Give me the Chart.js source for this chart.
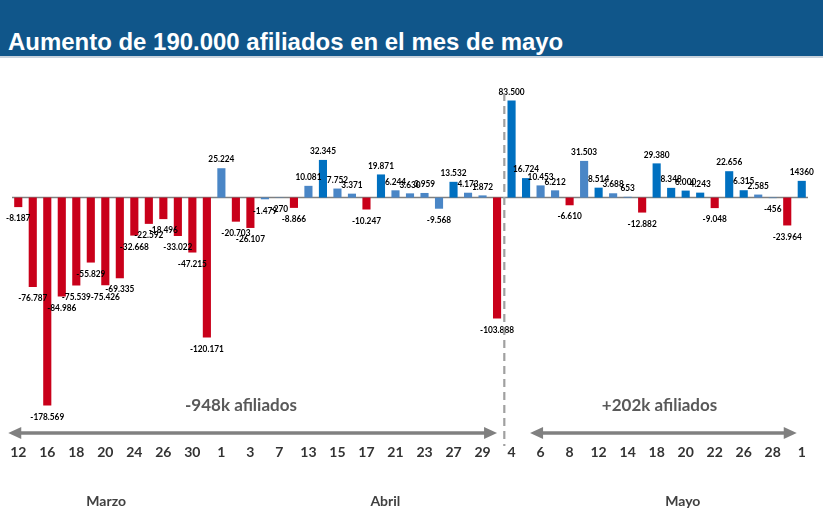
<!DOCTYPE html>
<html><head><meta charset="utf-8">
<script src="https://cdn.jsdelivr.net/npm/chart.js@4.4.1/dist/chart.umd.min.js"></script>
<style>
html,body{margin:0;padding:0;background:#fff;width:823px;height:513px;overflow:hidden;}
#wrap{position:relative;width:823px;height:513px;}
#banner{position:absolute;left:0;top:0;width:823px;height:56px;background:#10568A;border-bottom:2px solid #c9d3dd;}
#title{position:absolute;left:8px;top:28px;line-height:24px;color:#fff;font:bold 24px "Liberation Sans",Arial,sans-serif;white-space:nowrap;transform-origin:0 0;}
canvas{position:absolute;left:0;top:0;}
</style></head>
<body><div id="wrap"><canvas id="c" width="823" height="513"></canvas>
<div id="banner"><span id="title">Aumento de 190.000 afiliados en el mes de mayo</span></div></div>
<script>
// dates (business days) Mar 12 -> Jun 1
const categories = ['12','13','16','17','18','19','20','23','24','25','26','27','30','31',
  '1','2','3','6','7','8','13','14','15','16','17','20','21','22','23','24','27','28','29','30',
  '4','5','6','7','8','11','12','13','14','15','18','19','20','21','22','25','26','27','28','29','1'];
const values = [-8187,-76787,-178569,-84986,-75539,-55829,-75426,-69335,-32668,-22592,-18496,-33022,-47215,-120171,
  25224,-20703,-26107,-1479,-270,-8866,10081,32345,7752,3371,-10247,19871,6244,3630,3959,-9568,13532,4173,1872,-103888,
  83500,16724,10453,6212,-6610,31503,8514,3688,653,-12882,29380,8348,6000,4243,-9048,22656,6315,2585,-456,-23964,14360];
// bar shade: r = red, d = dark blue, l = light blue
const shades = ['r','r','r','r','r','r','r','r','r','r','r','r','r','r',
  'l','r','r','l','l','r','l','d','l','l','r','d','l','l','l','l','d','l','l','r',
  'd','d','l','l','r','l','d','l','l','r','d','d','d','d','r','d','d','l','l','r','d'];
const months = ['Marzo','Abril','Mayo'];
const periodTexts = ['-948k afiliados','+202k afiliados'];
const plainLabelIdx = [54];

const palette = {r:'#C9001A', d:'#0070C0', l:'#4A86C6'};

// fit title width
const t = document.getElementById('title');
t.style.transform = 'scaleX(' + (555 / t.offsetWidth) + ')';

function fmt(v, i){
  if (plainLabelIdx.includes(i)) return String(v);
  const s = Math.abs(v).toString().replace(/\B(?=(\d{3})+(?!\d))/g, '.');
  return (v < 0 ? '-' : '') + s;
}

function arrow(ctx, x1, x2, y){
  const hl = 13, hh = 6;
  ctx.save();
  ctx.strokeStyle = '#808080'; ctx.fillStyle = '#808080'; ctx.lineWidth = 3.5;
  ctx.beginPath(); ctx.moveTo(x1 + hl - 1, y); ctx.lineTo(x2 - hl + 1, y); ctx.stroke();
  ctx.beginPath(); ctx.moveTo(x1, y); ctx.lineTo(x1 + hl, y - hh); ctx.lineTo(x1 + hl, y + hh); ctx.closePath(); ctx.fill();
  ctx.beginPath(); ctx.moveTo(x2, y); ctx.lineTo(x2 - hl, y - hh); ctx.lineTo(x2 - hl, y + hh); ctx.closePath(); ctx.fill();
  ctx.restore();
}

const overlay = {
  id: 'overlay',
  beforeDatasetsDraw(chart){
    const ctx = chart.ctx, ca = chart.chartArea, y0 = chart.scales.y.getPixelForValue(0);
    ctx.save();
    ctx.strokeStyle = '#7f7f7f'; ctx.lineWidth = 1.6;
    ctx.beginPath(); ctx.moveTo(ca.left + 1, y0); ctx.lineTo(ca.right - 1, y0); ctx.stroke();
    ctx.restore();
  },
  afterDatasetsDraw(chart){
    const ctx = chart.ctx, xs = chart.scales.x, meta = chart.getDatasetMeta(0);
    ctx.save();
    ctx.fillStyle = '#000'; ctx.textAlign = 'center'; ctx.textBaseline = 'middle';
    ctx.font = 'bold 10px Lato, "Open Sans", sans-serif';
    meta.data.forEach((bar, i) => {
      const v = values[i];
      const ty = v >= 0 ? bar.y - 9 : bar.y + 11;
      ctx.save(); ctx.translate(bar.x, ty); ctx.scale(0.83, 1);
      ctx.fillText(fmt(v, i), 0, 0);
      ctx.restore();
    });
    // dashed separator between April and May
    const xd = (xs.getPixelForValue(33) + xs.getPixelForValue(34)) / 2;
    ctx.strokeStyle = '#a0a0a0'; ctx.lineWidth = 2.2; ctx.setLineDash([8, 5]);
    ctx.beginPath(); ctx.moveTo(xd, 93); ctx.lineTo(xd, 446); ctx.stroke();
    ctx.setLineDash([]);
    // arrows
    arrow(ctx, xs.getPixelForValue(0) - 10, xs.getPixelForValue(33), 433);
    arrow(ctx, xs.getPixelForValue(35) + 4, xs.getPixelForValue(54) - 5, 433);
    // period texts
    ctx.fillStyle = '#595959'; ctx.font = 'bold 17px Lato, "Open Sans", sans-serif';
    ctx.fillText(periodTexts[0], xs.getPixelForValue(15.35), 406);
    ctx.fillText(periodTexts[1], xs.getPixelForValue(44.2), 406);
    // month labels
    ctx.fillStyle = '#404040'; ctx.font = 'bold 14px Lato, "Open Sans", sans-serif';
    ctx.fillText(months[0], xs.getPixelForValue(6.06), 501);
    ctx.fillText(months[1], xs.getPixelForValue(25.3), 501);
    ctx.fillText(months[2], xs.getPixelForValue(45.8), 501);
    ctx.restore();
  }
};

new Chart(document.getElementById('c'), {
  type: 'bar',
  data: {
    labels: categories,
    datasets: [{
      data: values,
      backgroundColor: shades.map(s => palette[s]),
      barPercentage: 0.56,
      categoryPercentage: 1.0,
      borderWidth: 0
    }]
  },
  options: {
    responsive: false,
    animation: false,
    layout: {padding: {top: 87, bottom: 41, left: 11, right: 14}},
    plugins: {legend: {display: false}, tooltip: {enabled: false}},
    scales: {
      x: {
        grid: {display: false, drawTicks: false},
        border: {display: false},
        afterFit: s => { s.height = 30; },
        ticks: {
          autoSkip: false, maxRotation: 0, padding: 2,
          color: '#333333',
          font: {family: 'Lato, "Open Sans", sans-serif', size: 14, weight: 'bold'},
          callback: (v, i) => (i % 2 === 0 ? categories[i] : '')
        }
      },
      y: {display: false, min: -210000, max: 95000}
    }
  },
  plugins: [overlay]
});
</script>
</body></html>
